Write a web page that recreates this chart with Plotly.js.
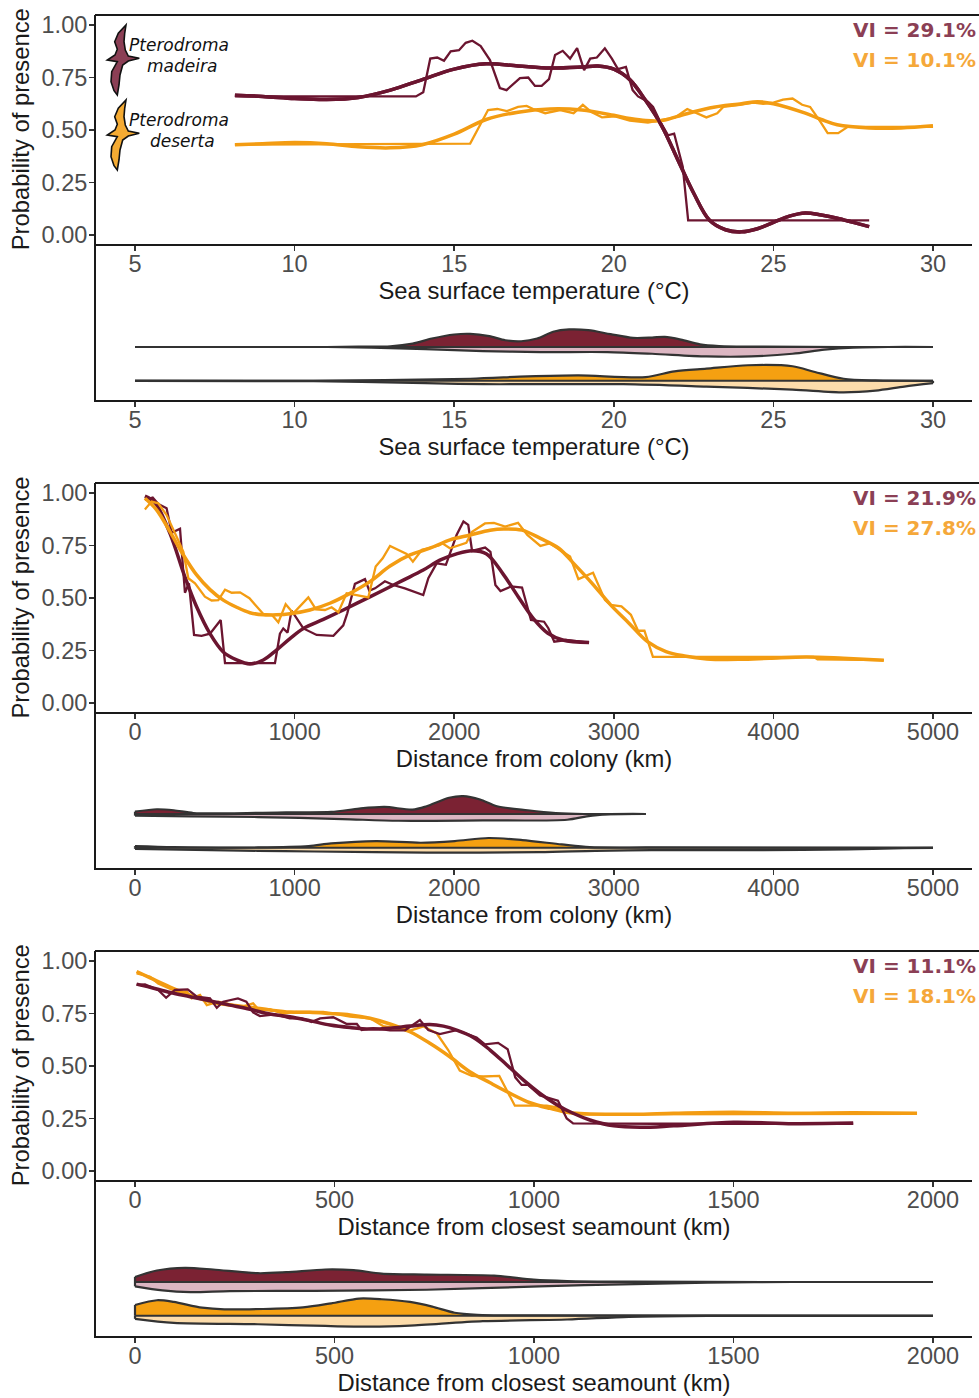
<!DOCTYPE html>
<html><head><meta charset="utf-8">
<script src="https://cdn.plot.ly/plotly-3.0.1.min.js"></script>
<style>html,body{margin:0;padding:0;background:#fff}</style></head>
<body><div id="chart" style="width:979px;height:1398px"></div>
<script>
const MADEIRA='#6b1530', DESERTA='#f39c12', MADEIRA_TXT='#8b3f55', DESERTA_TXT='#f5a83a';
const DARK_M='#7b2233', LIGHT_M='#dcb6c2', DARK_D='#f5a011', LIGHT_D='#fcdcab', EDGE='#333333';
const xTitles=['Sea surface temperature (°C)','Distance from colony (km)','Distance from closest seamount (km)'];
const viM=['VI = 29.1%','VI = 21.9%','VI = 11.1%'];
const viD=['VI = 10.1%','VI = 27.8%','VI = 18.1%'];

// Panel 1: SST
const sstMadRawX=[8.13,13.8,14.03,14.25,14.47,14.68,14.89,15.15,15.36,15.57,15.83,16.12,16.43,16.64,17.06,17.32,17.53,17.74,17.97,18.16,18.4,18.63,18.85,19.07,19.26,19.47,19.72,19.94,20.13,20.38,20.59,20.76,21.07,21.23,21.45,21.7,21.89,22.16,22.33,28];
const sstMadRawY=[.66,.66,.68,.84,.845,.83,.875,.88,.915,.925,.9,.833,.7,.69,.747,.75,.71,.71,.742,.857,.877,.84,.89,.785,.84,.845,.889,.84,.79,.8,.69,.66,.635,.61,.54,.475,.483,.325,.07,.07];
const sstMadFitX=[8.13,9,10,11,12,13,14,15,16,17,18,19,19.5,20,20.5,21,21.5,22,22.5,23,23.5,24,24.5,25,25.5,26,26.5,27,27.5,28];
const sstMadFitY=[.665,.66,.65,.645,.655,.69,.74,.79,.815,.805,.795,.8,.805,.79,.74,.64,.52,.36,.2,.07,.025,.015,.03,.06,.09,.105,.095,.08,.06,.04];
const sstDesRawX=[8.13,15.5,16.06,16.35,16.65,17,17.27,17.47,17.85,18.32,18.74,19.03,19.3,19.63,20.04,20.5,21.07,21.6,21.92,22.3,22.6,22.9,23.24,23.43,23.95,24.37,24.68,25,25.3,25.6,25.9,26.15,26.47,26.7,27.03,27.33,27.6,30];
const sstDesRawY=[.43,.435,.595,.6,.59,.61,.615,.6,.58,.595,.58,.62,.585,.56,.565,.545,.535,.55,.56,.6,.58,.56,.58,.61,.62,.63,.625,.63,.645,.65,.62,.61,.54,.485,.485,.515,.515,.515];
const sstDesFitX=[8.13,9,10,11,12,13,14,15,16,17,18,19,20,20.5,21,21.5,22,23,24,24.5,25,26,26.5,27,28,29,30];
const sstDesFitY=[.43,.435,.44,.435,.42,.415,.43,.48,.55,.585,.6,.595,.57,.555,.545,.545,.565,.605,.625,.635,.625,.58,.55,.525,.51,.51,.52];
const sstMadUpX=[5,11,12,13,13.7,14.3,15,15.5,16.1,16.6,17.1,17.6,18.1,18.6,19.2,19.9,20.6,21.2,21.6,22.1,22.7,23.3,24.7,27.2,30];
const sstMadUpH=[0,0,.01,.02,.1,.25,.37,.39,.32,.2,.17,.25,.45,.52,.5,.38,.27,.28,.3,.22,.08,.03,.01,0,0];
const sstMadLoX=[5,11,12.4,14.1,15.9,17.7,19.8,21.2,22.9,24.3,25.6,26.6,27.5,28.6,30];
const sstMadLoH=[0,0,.02,.06,.12,.15,.15,.2,.28,.28,.2,.08,.02,0,0];
const sstDesUpX=[5,10.6,15.5,17.3,18.9,21,21.9,22.9,24.2,25.6,26.3,27.2,28.2,30];
const sstDesUpH=[0,0,.06,.13,.16,.11,.28,.36,.46,.43,.26,.06,.01,0];
const sstDesLoX=[5,10.6,14.1,15.9,20.3,22.9,25.6,27.2,28.2,29.1,30];
const sstDesLoH=[0,.01,.07,.1,.1,.17,.26,.34,.29,.17,.07];

// Panel 2: colony distance
const colMadRawX=[62,111,146,198,230,282,313,338,370,417,470,537,564,877,908,929,956,981,1055,1138,1243,1305,1330,1378,1441,1468,1504,1566,1618,1691,1806,1838,1890,1948,2015,2058,2088,2112,2194,2227,2258,2290,2356,2425,2481,2563,2590,2627,2700,2845];
const colMadRawY=[.967,.978,.948,.927,.81,.83,.525,.57,.324,.32,.33,.395,.19,.19,.33,.355,.335,.44,.355,.324,.32,.37,.427,.567,.59,.535,.546,.58,.562,.546,.514,.594,.665,.658,.8,.864,.848,.724,.74,.72,.562,.533,.555,.55,.395,.387,.356,.292,.3,.287];
const colMadFitX=[62,125,219,313,386,470,553,637,720,804,888,971,1055,1180,1305,1430,1555,1681,1806,1910,2015,2110,2203,2310,2401,2495,2587,2680,2845];
const colMadFitY=[.985,.954,.808,.6,.458,.33,.243,.205,.186,.205,.253,.307,.355,.398,.443,.49,.537,.585,.633,.68,.71,.725,.71,.61,.506,.403,.332,.3,.288];
const colDesRawX=[62,104,146,198,265,303,334,376,438,480,522,564,606,658,717,804,857,898,944,992,1086,1134,1190,1232,1274,1326,1389,1462,1508,1552,1598,1702,1741,1798,1904,1926,1973,2076,2112,2193,2249,2319,2400,2458,2540,2598,2726,2778,2870,2945,2980,3048,3107,3152,3192,3245,4252,4276,4692];
const colDesRawY=[.922,.959,.951,.895,.785,.72,.594,.57,.506,.488,.49,.54,.525,.527,.499,.424,.42,.384,.47,.427,.503,.446,.443,.456,.432,.522,.514,.503,.65,.689,.748,.71,.673,.73,.75,.76,.737,.763,.815,.855,.858,.84,.858,.8,.748,.76,.697,.59,.62,.49,.467,.46,.42,.344,.344,.22,.22,.208,.204];
const colDesFitX=[62,135,219,303,386,470,553,637,720,804,887,971,1096,1221,1347,1472,1598,1723,1848,1974,2100,2225,2310,2425,2540,2655,2748,2864,2980,3095,3211,3327,3443,3582,3790,3975,4206,4438,4692];
const colDesFitY=[.975,.92,.816,.705,.61,.54,.49,.456,.43,.42,.42,.425,.443,.475,.522,.578,.652,.705,.737,.777,.8,.823,.829,.823,.784,.737,.665,.57,.467,.38,.292,.245,.224,.21,.208,.213,.219,.213,.204];
const colMadUpX=[0,137,243,366,595,947,1229,1405,1563,1739,1827,1968,2056,2162,2268,2461,2637,2813,3200];
const colMadUpH=[.07,.14,.11,.03,.02,.05,.06,.16,.21,.13,.23,.48,.53,.43,.23,.11,.03,0,0];
const colMadLoX=[0,349,771,1299,1651,2180,2708,2831,2954,3200];
const colMadLoH=[.05,.07,.09,.15,.2,.19,.17,.07,.01,0];
const colDesUpX=[0,243,771,1088,1229,1511,1792,2004,2215,2426,2673,2849,3236,5000];
const colDesUpH=[.05,.02,.01,.05,.13,.2,.15,.2,.29,.23,.1,.02,.01,0];
const colDesLoX=[0,771,1123,1827,2532,2884,3236,3940,4468,4820,5000];
const colDesLoH=[.03,.09,.11,.14,.13,.09,.07,.07,.05,.01,0];

// Panel 3: seamount distance
const smtMadRawX=[4,25,58,78,100,132,155,188,205,221,258,279,296,313,351,388,418,443,464,497,531,556,568,597,639,677,714,735,764,806,856,877,910,934,953,969,985,1015,1060,1082,1098,1300,1800];
const smtMadRawY=[.886,.889,.862,.825,.862,.865,.83,.822,.777,.806,.822,.806,.755,.738,.746,.727,.727,.71,.727,.732,.7,.7,.671,.68,.67,.67,.719,.671,.652,.671,.636,.603,.61,.58,.446,.41,.41,.36,.335,.25,.227,.225,.225];
const smtMadFitX=[4,38,88,138,188,238,288,338,388,438,489,539,589,639,689,739,773,806,848,890,932,973,1015,1057,1098,1140,1200,1266,1350,1500,1650,1800];
const smtMadFitY=[.89,.875,.85,.83,.81,.79,.77,.748,.735,.716,.695,.683,.676,.68,.69,.698,.69,.671,.636,.576,.505,.434,.37,.316,.275,.243,.215,.208,.215,.232,.225,.228];
const smtDesRawX=[4,38,58,104,130,142,163,180,209,268,296,313,338,371,405,472,539,589,622,689,723,756,785,814,844,873,913,952,1032,1057,1098,1115,1960];
const smtDesRawY=[.941,.925,.893,.854,.854,.822,.838,.79,.806,.782,.798,.763,.77,.75,.758,.758,.735,.727,.69,.668,.688,.656,.576,.478,.453,.45,.453,.311,.311,.303,.275,.27,.272];
const smtDesFitX=[4,38,88,138,188,238,288,338,388,438,489,539,589,639,689,739,789,839,890,940,990,1040,1090,1140,1250,1350,1500,1650,1800,1960];
const smtDesFitY=[.95,.92,.876,.837,.806,.79,.78,.767,.757,.756,.75,.743,.727,.7,.663,.608,.544,.473,.42,.37,.325,.298,.277,.272,.27,.275,.28,.275,.277,.275];
const smtMadUpX=[0,55,125,196,308,379,477,548,618,731,900,999,1083,1252,1576,2000];
const smtMadUpH=[.15,.34,.42,.37,.26,.29,.37,.35,.25,.22,.19,.07,.03,.01,0,0];
const smtMadLoX=[0,69,139,238,449,731,1013,1252,1435,1646,2000];
const smtMadLoH=[.13,.25,.3,.27,.26,.23,.13,.06,.02,0,0];
const smtDesUpX=[0,55,97,168,224,421,492,562,618,689,745,801,858,1013,2000];
const smtDesUpH=[.32,.46,.41,.24,.19,.25,.37,.51,.49,.41,.27,.09,.03,.01,0];
const smtDesLoX=[0,97,308,477,590,689,872,1083,1238,1435,2000];
const smtDesLoH=[.09,.21,.25,.3,.32,.29,.16,.11,.03,0,0];

const panels=[
 {top:15,bot:243.5,dBot:400,base1:347,x0:5,x1:30,ticks:[5,10,15,20,25,30],
  mr:[sstMadRawX,sstMadRawY],mf:[sstMadFitX,sstMadFitY],dr:[sstDesRawX,sstDesRawY],df:[sstDesFitX,sstDesFitY],
  mu:[sstMadUpX,sstMadUpH],ml:[sstMadLoX,sstMadLoH],du:[sstDesUpX,sstDesUpH],dl:[sstDesLoX,sstDesLoH]},
 {top:483,bot:712,dBot:868,base1:814,x0:0,x1:5000,ticks:[0,1000,2000,3000,4000,5000],
  mr:[colMadRawX,colMadRawY],mf:[colMadFitX,colMadFitY],dr:[colDesRawX,colDesRawY],df:[colDesFitX,colDesFitY],
  mu:[colMadUpX,colMadUpH],ml:[colMadLoX,colMadLoH],du:[colDesUpX,colDesUpH],dl:[colDesLoX,colDesLoH]},
 {top:951,bot:1179.5,dBot:1336,base1:1282,x0:0,x1:2000,ticks:[0,500,1000,1500,2000],
  mr:[smtMadRawX,smtMadRawY],mf:[smtMadFitX,smtMadFitY],dr:[smtDesRawX,smtDesRawY],df:[smtDesFitX,smtDesFitY],
  mu:[smtMadUpX,smtMadUpH],ml:[smtMadLoX,smtMadLoH],du:[smtDesUpX,smtDesUpH],dl:[smtDesLoX,smtDesLoH]}
];
const W=979,H=1398,L=96,R=972,X5=135,X30=933,ROW=33.8;
const fx=p=>p/W, fy=p=>1-p/H;
const tickFont={family:'"Liberation Sans",Arial,sans-serif',size:23.5,color:'#4d4d4d'};
const titleFont={family:'"Liberation Sans",Arial,sans-serif',size:23.8,color:'#1a1a1a'};
const layout={width:W,height:H,margin:{l:0,r:0,t:0,b:0},paper_bgcolor:'#fff',plot_bgcolor:'rgba(0,0,0,0)',showlegend:false,shapes:[],annotations:[]};
const data=[];
panels.forEach((p,i)=>{
  const a=2*i+1,b=2*i+2;
  const sx=(X30-X5)/(p.x1-p.x0);
  const xr=[p.x0-(X5-L)/sx,p.x1+(R-X30)/sx];
  const axis=(title)=>({domain:[fx(L),fx(R)],range:xr,showgrid:false,zeroline:false,showline:true,linecolor:'#1a1a1a',linewidth:2,
    ticks:'outside',ticklen:5,tickwidth:1.5,tickcolor:'#333',tickmode:'array',tickvals:p.ticks,ticktext:p.ticks.map(String),tickfont:tickFont,ticklabelstandoff:-7,
    title:{text:title,font:titleFont,standoff:1.5},automargin:false});
  layout['xaxis'+(a===1?'':a)]=Object.assign(axis(xTitles[i]),{anchor:'y'+(a===1?'':a)});
  layout['xaxis'+b]=Object.assign(axis(xTitles[i]),{anchor:'y'+b});
  const yZero=p.top+220, pxPerUnit=210;
  layout['yaxis'+(a===1?'':a)]={domain:[fy(p.bot),fy(p.top)],range:[(yZero-p.bot)/pxPerUnit,(yZero-p.top)/pxPerUnit],anchor:'x'+(a===1?'':a),
    showgrid:false,zeroline:false,showline:true,linecolor:'#1a1a1a',linewidth:2,ticks:'outside',ticklen:5,tickwidth:1.5,tickcolor:'#333',
    tickmode:'array',tickvals:[0,.25,.5,.75,1],ticktext:['0.00','0.25','0.50','0.75','1.00'],tickfont:tickFont,ticklabelstandoff:-3,
    title:{text:'Probability of presence',font:titleFont,standoff:5}};
  // density rows: baseline 2 = Madeira, 1 = Deserta; left line runs up to the panel above
  const y2=p.base1;
  layout['yaxis'+b]={domain:[fy(p.dBot),fy(p.bot)],range:[2-(p.dBot-y2)/ROW,2+(y2-p.bot)/ROW],anchor:'x'+b,
    showgrid:false,zeroline:false,showline:true,linecolor:'#1a1a1a',linewidth:2,showticklabels:false,ticks:''};
  layout.shapes.push({type:'line',xref:'paper',yref:'paper',x0:fx(L-1),x1:1,y0:fy(p.top),y1:fy(p.top),line:{color:'#1a1a1a',width:2}});
  const xa='x'+(a===1?'':a), ya='y'+(a===1?'':a);
  const line=(d,c,w,sm)=>data.push({type:'scatter',mode:'lines',x:d[0],y:d[1],xaxis:xa,yaxis:ya,hoverinfo:'skip',
    line:{color:c,width:w,shape:sm?'spline':'linear',smoothing:sm?1:0}});
  if(i===2){line(p.dr,DESERTA,2.3,false);line(p.df,DESERTA,3.5,true);line(p.mr,MADEIRA,2.3,false);line(p.mf,MADEIRA,3.5,true);}
  else {line(p.mr,MADEIRA,2.3,false);line(p.mf,MADEIRA,3.5,true);line(p.dr,DESERTA,2.3,false);line(p.df,DESERTA,3.5,true);}
  if(i===0) line(p.mf,MADEIRA,3.5,true);
  const xb='x'+b,yb='y'+b;
  const ridge=(d,baseY,sign,color)=>{
    const n=d[0].length-1;
    data.push({type:'scatter',mode:'lines',x:[d[0][0],d[0][n]],y:[baseY,baseY],xaxis:xb,yaxis:yb,hoverinfo:'skip',line:{color:EDGE,width:0}});
    data.push({type:'scatter',mode:'lines',x:d[0],y:d[1].map(h=>baseY+sign*h),xaxis:xb,yaxis:yb,hoverinfo:'skip',fill:'tonexty',fillcolor:color,
      line:{color:EDGE,width:2.2,shape:'spline',smoothing:.8}});
    [0,n].forEach(k=>{ if(d[1][k]>0) data.push({type:'scatter',mode:'lines',x:[d[0][k],d[0][k]],y:[baseY,baseY+sign*d[1][k]],xaxis:xb,yaxis:yb,hoverinfo:'skip',line:{color:EDGE,width:2.2}}); });
  };
  ridge(p.ml,2,-1,LIGHT_M);ridge(p.mu,2,1,DARK_M);
  ridge(p.dl,1,-1,LIGHT_D);ridge(p.du,1,1,DARK_D);
  const mEnd=p.mu[0][p.mu[0].length-1];
  data.push({type:'scatter',mode:'lines',x:[p.x0,mEnd],y:[2,2],xaxis:xb,yaxis:yb,hoverinfo:'skip',line:{color:EDGE,width:2}});
  data.push({type:'scatter',mode:'lines',x:[p.x0,p.x1],y:[1,1],xaxis:xb,yaxis:yb,hoverinfo:'skip',line:{color:EDGE,width:2}});
  const vi=(txt,c,py)=>layout.annotations.push({xref:'paper',yref:'paper',x:fx(977.5),y:fy(py),xanchor:'right',yanchor:'middle',showarrow:false,text:'<b>'+txt+'</b>',
    font:{family:'"DejaVu Sans",Verdana,sans-serif',size:20,color:c}});
  vi(viM[i],MADEIRA_TXT,p.top+15);
  vi(viD[i],DESERTA_TXT,p.top+45);
});
// bird silhouettes
const birdX=[126,124.7,124,125.3,128.3,139.3,128.3,122.7,120,119,117.3,114,111,111.7,117.3,107.3,115,117.3,114.7,118.3,126];
const birdY=[25,33.3,41.7,50,56,58.3,61,65,75,85,95,90.7,81.7,71.7,61.7,60,55,49.3,41.7,33.3,25];
const birdPath=dy=>birdX.map((x,k)=>(k?'L':'M')+fx(x).toFixed(5)+','+fy(birdY[k]+dy).toFixed(5)).join(' ')+' Z';
layout.shapes.push({type:'path',xref:'paper',yref:'paper',path:birdPath(0),fillcolor:'#8b3f55',line:{color:'#111',width:1.6}});
layout.shapes.push({type:'path',xref:'paper',yref:'paper',path:birdPath(75),fillcolor:'#f5ab33',line:{color:'#111',width:1.6}});
const sp=(t,x,py)=>layout.annotations.push({xref:'paper',yref:'paper',x:fx(x),y:fy(py),xanchor:'center',yanchor:'middle',showarrow:false,text:'<i>'+t+'</i>',
  font:{family:'"DejaVu Sans",sans-serif',size:17,color:'#111'}});
sp('Pterodroma',179,45);sp('madeira',182,66);sp('Pterodroma',179,120);sp('deserta',182,141);
Plotly.newPlot('chart',data,layout,{staticPlot:true,displayModeBar:false});
</script></body></html>
